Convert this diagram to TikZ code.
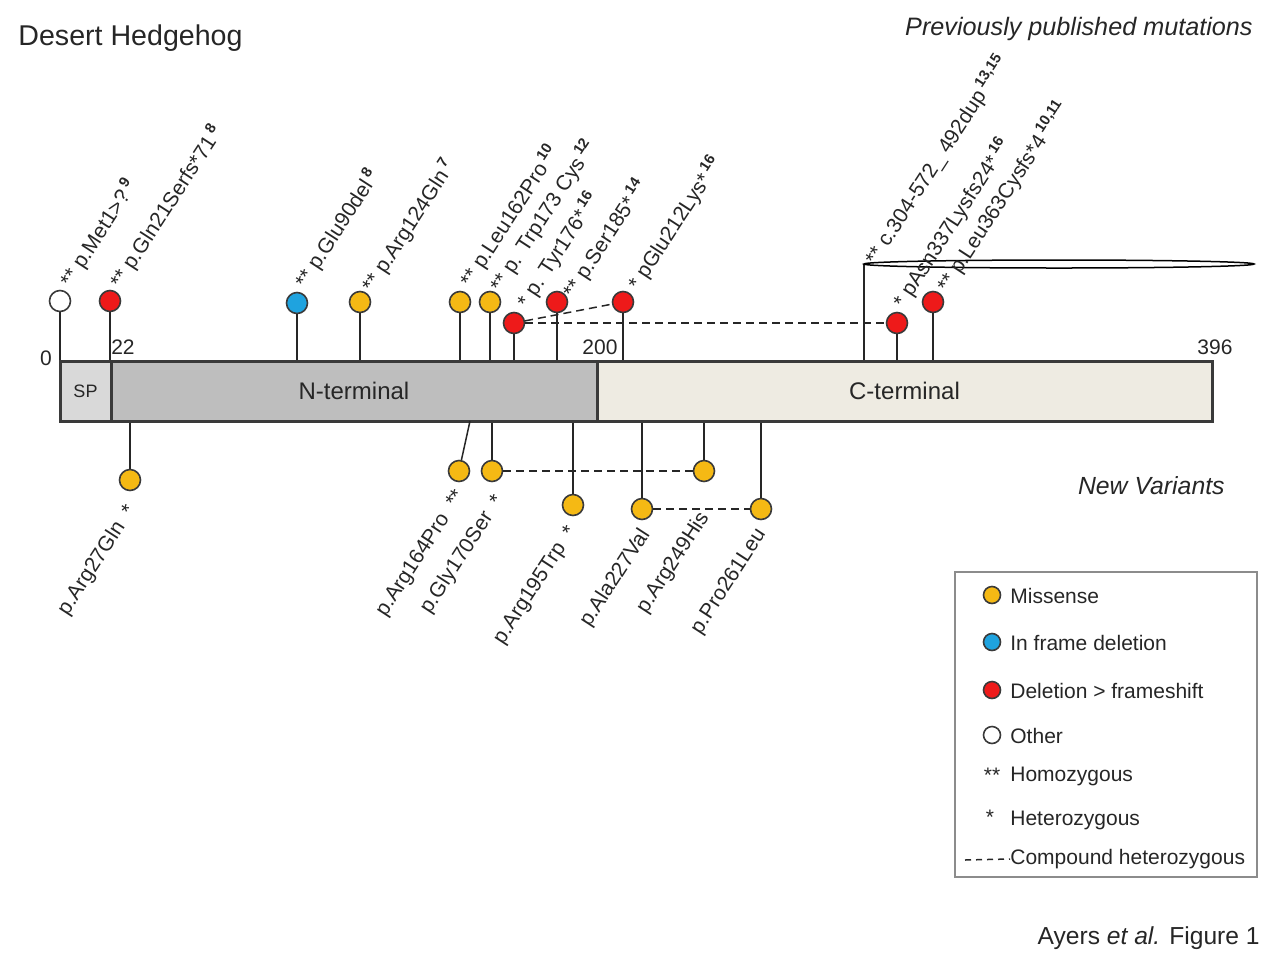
\documentclass[tikz,border=0pt]{standalone}
\usepackage{fontspec}
\setmainfont{Liberation Sans}
\definecolor{mis}{HTML}{F5B914}
\definecolor{fsd}{HTML}{EE1A1A}
\definecolor{ifd}{HTML}{1FA3DF}
\definecolor{spgray}{HTML}{D9D9D9}
\definecolor{ngray}{HTML}{BEBEBE}
\definecolor{cbeige}{HTML}{EEEBE2}
\definecolor{edge}{HTML}{3A3A3A}
\newcommand{\rf}[1]{\textsuperscript{\bfseries #1}}
\begin{document}
\begin{tikzpicture}[x=0.5pt, y=-0.5pt, text=black!85,
			dot/.style={draw=edge, circle, line width=0.8pt, inner sep=0pt, minimum size=10.5pt},
			key/.style={draw=edge, circle, line width=0.8pt, inner sep=0pt, minimum size=8.5pt},
			top/.style={rotate=57, anchor=west, inner sep=0pt, font=\fontsize{10.5}{12}\selectfont},
			bot/.style={rotate=57, anchor=east, inner sep=0pt, font=\fontsize{10.5}{12}\selectfont},
			item/.style={anchor=west, inner sep=0pt, font=\fontsize{10.5}{12}\selectfont},
			num/.style={inner sep=0pt, font=\fontsize{10.5}{12}\selectfont},
			stem/.style={line width=0.75pt, draw=black!85},
			pair/.style={line width=0.75pt, draw=black!85, dash pattern=on 4pt off 2.5pt},
			region/.style={draw=edge, line width=1.5pt, minimum height=30pt, inner sep=0pt, font=\fontsize{12}{14}\selectfont}]
			
			\useasboundingbox (0,0) rectangle (1280,965);
			
			\node[region, fill=spgray, minimum width=25.5pt, font=\fontsize{9}{11}\selectfont] (sp) at (85.5,391) {SP};
			\node[region, fill=ngray, minimum width=243pt] (nterm) at (354,391) {N-terminal};
			\node[region, fill=cbeige, minimum width=307.5pt] (cterm) at (904.5,391) {C-terminal};
			
			\node[num] (n0) at (46,358) {0};
			\node[num] (n22) at (123,347) {22};
			\node[num] (n200) at (600,347) {200};
			\node[num] (n396) at (1215,347) {396};
			
			% published
			\node[dot, fill=white] (met1) at (60,301) {};
			\node[dot, fill=fsd] (gln21) at (110,301) {};
			\node[dot, fill=ifd] (glu90) at (297,303) {};
			\node[dot, fill=mis] (arg124) at (360,302) {};
			\node[dot, fill=mis] (leu162) at (460,302) {};
			\node[dot, fill=mis] (trp173) at (490,302) {};
			\node[dot, fill=fsd] (tyr176) at (514,323) {};
			\node[dot, fill=fsd] (ser185) at (557,302) {};
			\node[dot, fill=fsd] (glu212) at (623,302) {};
			\node[dot, fill=fsd] (asn337) at (897,323) {};
			\node[dot, fill=fsd] (leu363) at (933,302) {};
			\coordinate (dup) at (864,264);
			
			\draw[stem] (met1) to (met1 |- sp.north);
			\draw[stem] (gln21) to (gln21 |- sp.north);
			\draw[stem] (glu90) to (glu90 |- nterm.north);
			\draw[stem] (arg124) to (arg124 |- nterm.north);
			\draw[stem] (leu162) to (leu162 |- nterm.north);
			\draw[stem] (trp173) to (trp173 |- nterm.north);
			\draw[stem] (tyr176) to (tyr176 |- nterm.north);
			\draw[stem] (ser185) to (ser185 |- nterm.north);
			\draw[stem] (glu212) to (glu212 |- cterm.north);
			\draw[stem] (asn337) to (asn337 |- cterm.north);
			\draw[stem] (leu363) to (leu363 |- cterm.north);
			\draw[stem] (dup |- cterm.north) to (dup);
			\draw[line width=0.75pt] (1059,264) ellipse [x radius=97.5pt, y radius=2pt];
			
			\draw[pair] (tyr176) to (glu212);
			\draw[pair] (tyr176) to (asn337);
			
			\node[top] (lmet1) at (65,285) {** p.Met1>?\,\rf{9}};
			\node[top] (lgln21) at (115,286) {** p.Gln21Serfs*71\,\rf{8}};
			\node[top] (lglu90) at (300,286) {** p.Glu90del\,\rf{8}};
			\node[top] (larg124) at (367,290) {** p.Arg124Gln\,\rf{7}};
			\node[top] (lleu162) at (465,285) {** p.Leu162Pro\,\rf{10}};
			\node[top] (ltrp173) at (495,290) {** p. Trp173 Cys\,\rf{12}};
			\node[top] (ltyr176) at (522,306) {* p. Tyr176*\,\rf{16}};
			\node[top] (lser185) at (568,296) {** p.Ser185*\,\rf{14}};
			\node[top] (lglu212) at (633,288) {* pGlu212Lys*\,\rf{16}};
			\node[top] (ldup) at (870,263) {** c.304-572\_ 492dup\,\rf{13,15}};
			\node[top] (lasn337) at (898,306) {* pAsn337Lysfs24*\,\rf{16}};
			\node[top] (lleu363) at (942,290) {** p.Leu363Cysfs*4\,\rf{10,11}};
			
			% new variants
			\node[dot, fill=mis] (arg27) at (130,480) {};
			\node[dot, fill=mis] (arg164) at (459,471) {};
			\node[dot, fill=mis] (gly170) at (492,471) {};
			\node[dot, fill=mis] (arg195) at (573,505) {};
			\node[dot, fill=mis] (ala227) at (642,509) {};
			\node[dot, fill=mis] (arg249) at (704,471) {};
			\node[dot, fill=mis] (pro261) at (761,509) {};
			\coordinate (b164) at (470,421);
			
			\draw[stem] (arg27 |- sp.south) to (arg27);
			\draw[stem] (b164) to (arg164);
			\draw[stem] (gly170 |- nterm.south) to (gly170);
			\draw[stem] (arg195 |- nterm.south) to (arg195);
			\draw[stem] (ala227 |- cterm.south) to (ala227);
			\draw[stem] (arg249 |- cterm.south) to (arg249);
			\draw[stem] (pro261 |- cterm.south) to (pro261);
			
			\draw[pair] (gly170) to (arg249);
			\draw[pair] (ala227) to (pro261);
			
			\node[bot] (larg27) at (132,507) {p.Arg27Gln \ *};
			\node[bot] (larg164) at (461,492) {p.Arg164Pro \ **};
			\node[bot] (lgly170) at (500,497) {p.Gly170Ser \ *};
			\node[bot] (larg195) at (573,528) {p.Arg195Trp \ *};
			\node[bot] (lala227) at (646,531) {p.Ala227Val};
			\node[bot] (larg249) at (705,514) {p.Arg249His};
			\node[bot] (lpro261) at (762,531) {p.Pro261Leu};
			
			% titles
			\node[anchor=west, inner sep=0pt, font=\fontsize{14.3}{16}\selectfont] (title) at (18,38) {Desert Hedgehog};
			\node[anchor=east, inner sep=0pt, font=\fontsize{12.6}{14}\selectfont\itshape] (prev) at (1253,29) {Previously published mutations};
			\node[anchor=east, inner sep=0pt, font=\fontsize{12.4}{14}\selectfont\itshape] (newv) at (1225,486) {New Variants};
			\node[anchor=east, inner sep=0pt, font=\fontsize{12.3}{14}\selectfont] (cite) at (1260,938) {Ayers \textit{et al.} Figure 1};
			
			% legend
			\node[draw=black!45, line width=0.6pt, minimum width=151pt, minimum height=152.5pt, inner sep=0pt] (legend) at (1106,724.5) {};
			\node[key, fill=mis] (kmis) at (992,595) {};
			\node[key, fill=ifd] (kifd) at (992,642) {};
			\node[key, fill=fsd] (kfsd) at (992,690) {};
			\node[key, fill=white] (koth) at (992,735) {};
			\node[num] (khom) at (992,775) {**};
			\node[num] (khet) at (990,817) {*};
			\coordinate (kdash) at (965,860);
			\node[item] (tmis) at (1010,596) {Missense};
			\node[item] (tifd) at (1010,643) {In frame deletion};
			\node[item] (tfsd) at (1010,691) {Deletion > frameshift};
			\node[item] (toth) at (1010,736) {Other};
			\node[item] (thom) at (1010,776) {Homozygous};
			\node[item] (thet) at (1010,820) {Heterozygous};
			\node[item] (tcomp) at (1010,859) {Compound heterozygous};
			\draw[pair, dash pattern=on 3pt off 2.5pt] (kdash) to (tcomp.west);
			
		\end{tikzpicture}
\end{document}
